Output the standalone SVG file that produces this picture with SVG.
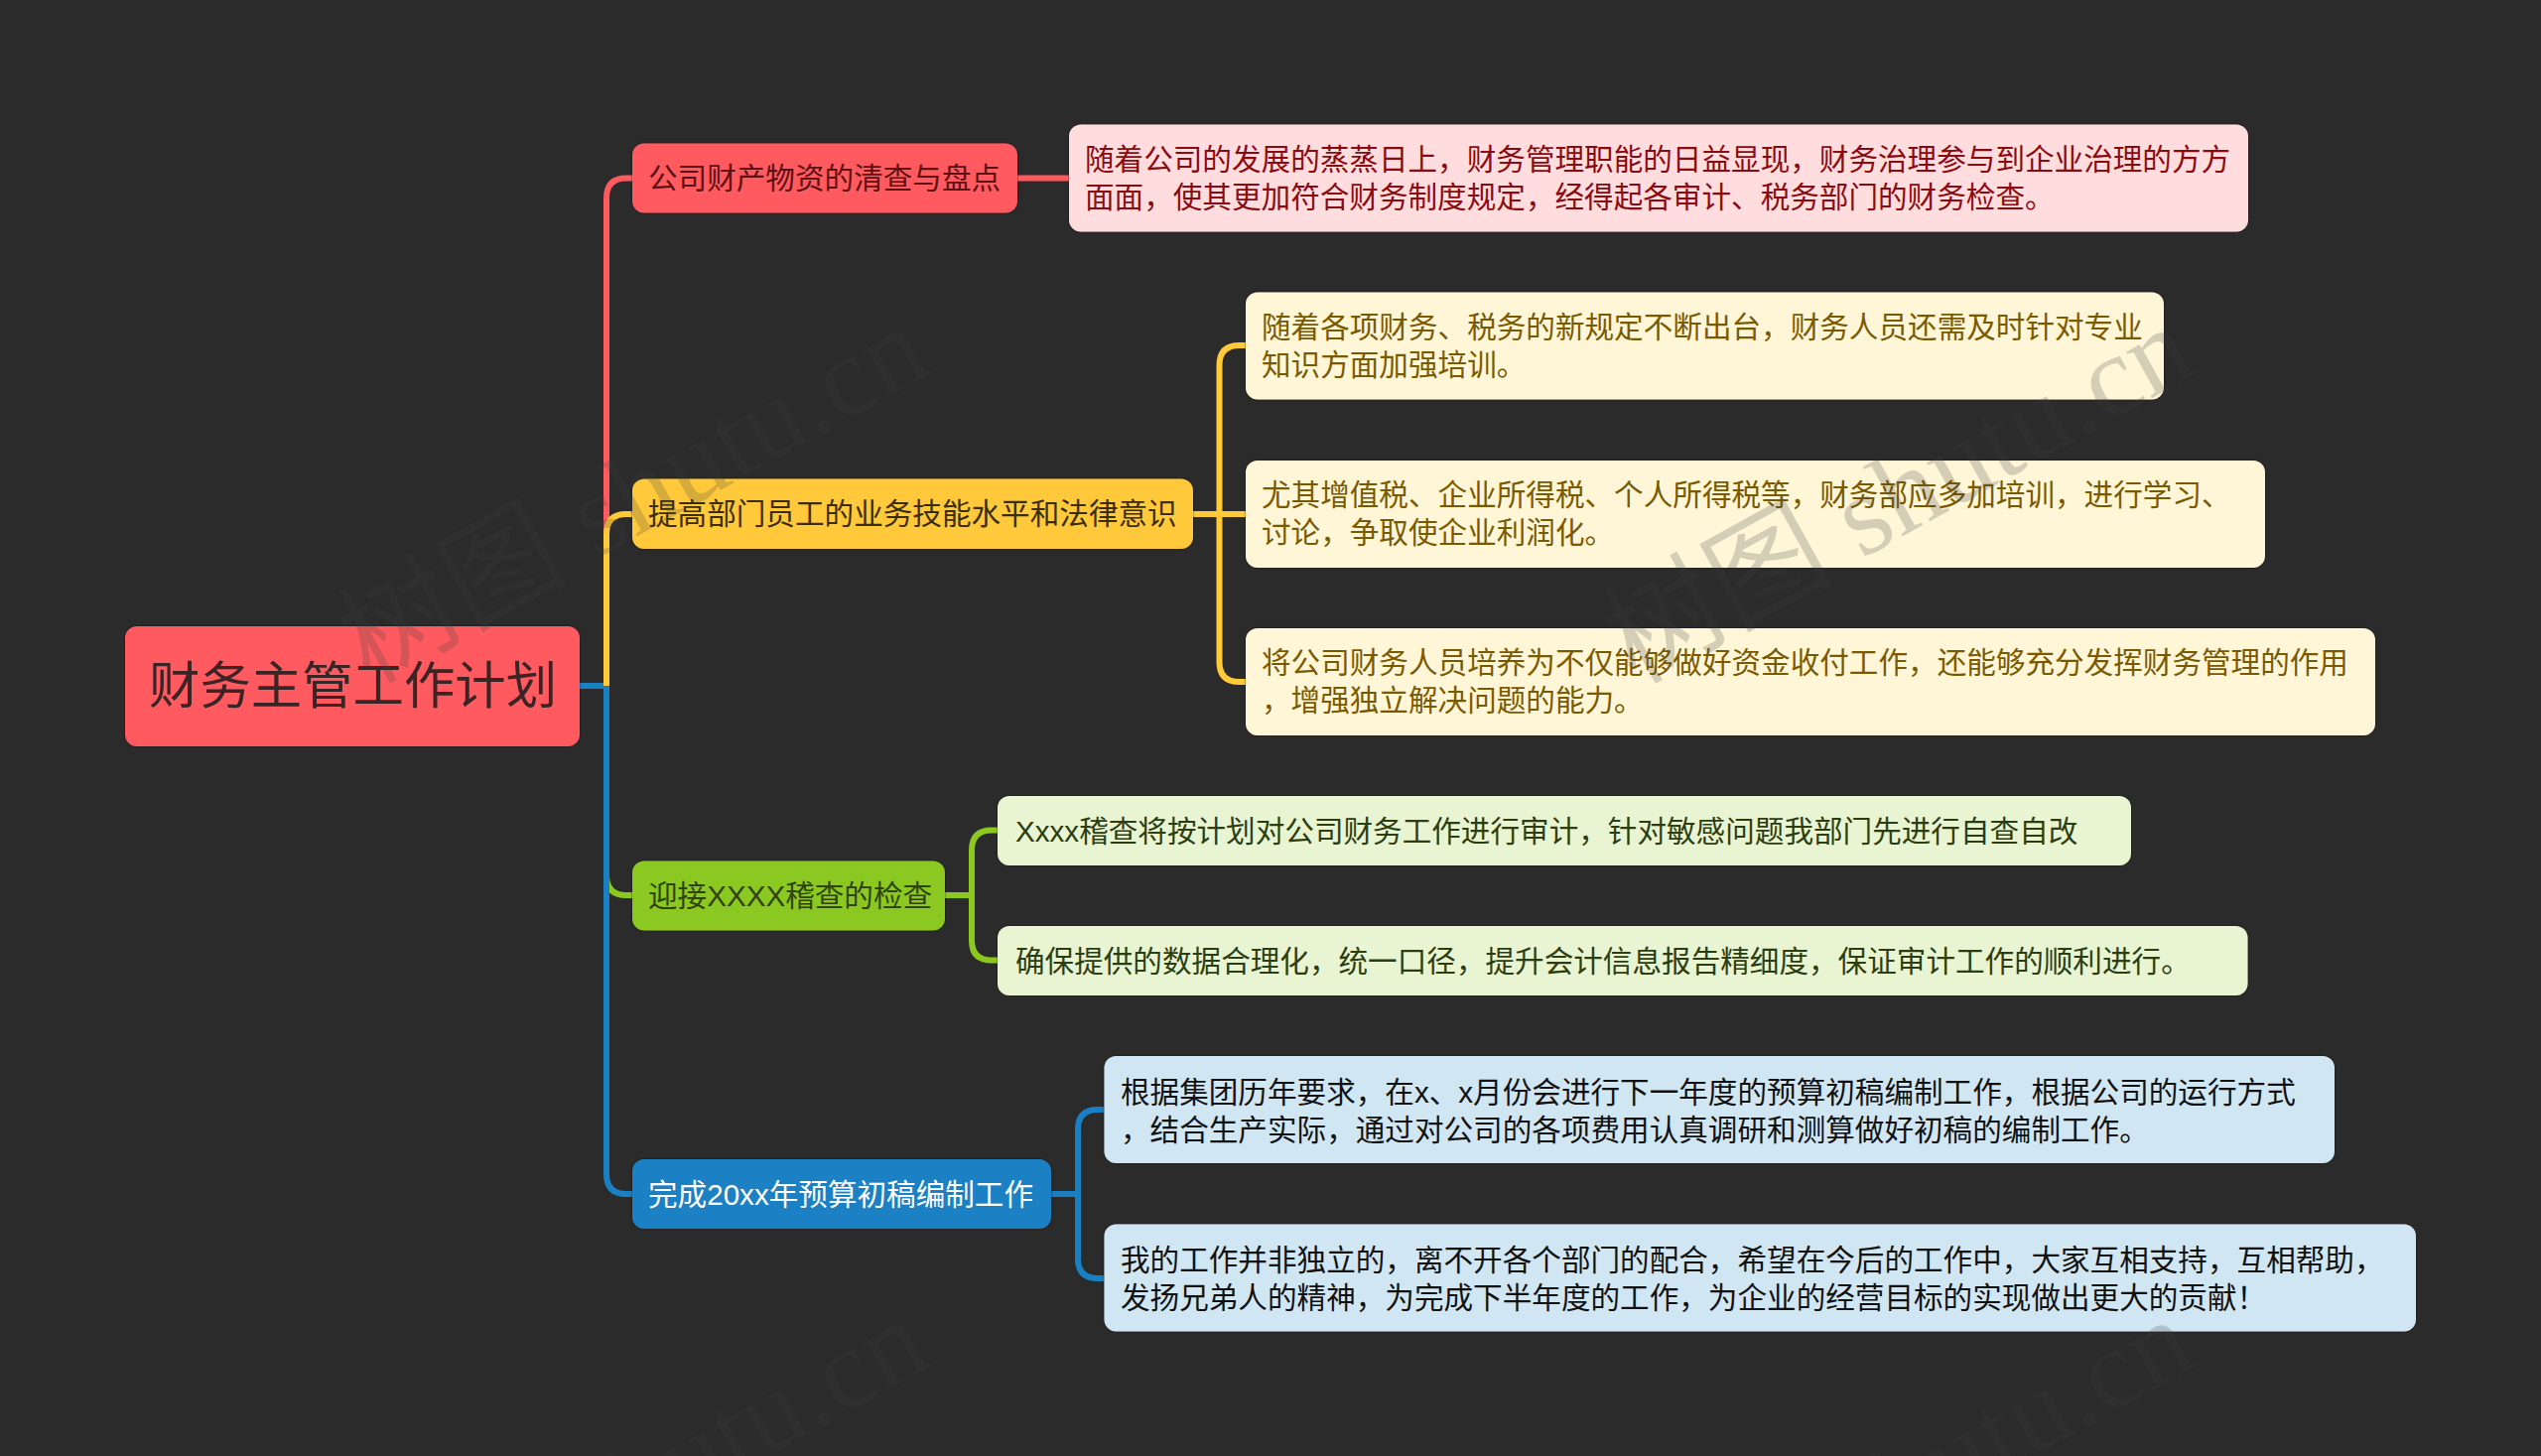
<svg xmlns="http://www.w3.org/2000/svg" width="2560" height="1467" viewBox="0 0 2560 1467">
<defs>
<filter id="sh" x="-5%" y="-10%" width="110%" height="120%"><feDropShadow dx="0" dy="0" stdDeviation="1.2" flood-color="#000" flood-opacity="0.6"/></filter>
</defs>
<style>
text{font-family:"Liberation Sans","Noto Sans CJK SC",sans-serif;font-size:29.6px;white-space:pre}
.box{filter:url(#sh)}
.c{fill:none;stroke-width:6}
.wm{font-family:"Liberation Serif","Noto Sans CJK SC",serif;font-size:116px;fill:#404040;fill-opacity:.22}
</style>
<rect width="2560" height="1467" fill="#2b2b2b"/>
<g id="connectors">
<path class="c" stroke="#8cc820" d="M952 902H979M1005 836.500H999Q979 836.500 979 856.500V947.500Q979 967.500 999 967.500H1005M637 902H631Q611 902 611 882V691"/>
<path class="c" stroke="#1a80c4" d="M584 691H611M611 691V1183Q611 1203 631 1203H637M1059 1203H1086M1112 1118H1106Q1086 1118 1086 1138V1268Q1086 1288 1106 1288H1112"/>
<path class="c" stroke="#ff5a5f" d="M1024 179.500H1077M637 179.500H631Q611 179.500 611 199.500V691"/>
<path class="c" stroke="#ffc93a" d="M637 518H631Q611 518 611 538V691M1202 518H1255M1255 348H1248.500Q1228.500 348 1228.500 368V667Q1228.500 687 1248.500 687H1255"/>
</g>
<g id="root"><rect class="box" x="126" y="631" width="458" height="121" rx="12" fill="#ff5a5f"/><text x="150" y="709" style="font-size:51.400px" fill="#3a2426">财务主管工作计划</text></g>
<g id="b1"><rect class="box" x="637" y="144.500" width="388" height="70" rx="12" fill="#ff5a5f"/><text x="653" y="190" fill="#5c1114">公司财产物资的清查与盘点</text></g>
<g id="d1"><rect class="box" x="1077" y="125.500" width="1188" height="108" rx="12" fill="#ffdddf"/><text x="1093" y="171" fill="#8b0a10">随着公司的发展的蒸蒸日上，财务管理职能的日益显现，财务治理参与到企业治理的方方</text><text x="1093" y="209" fill="#8b0a10">面面，使其更加符合财务制度规定，经得起各审计、税务部门的财务检查。</text></g>
<g id="b2"><rect class="box" x="637" y="482.500" width="565" height="70.500" rx="12" fill="#ffc93a"/><text x="653" y="528" fill="#3a2d08">提高部门员工的业务技能水平和法律意识</text></g>
<g id="d2a"><rect class="box" x="1255" y="294.500" width="925" height="108" rx="12" fill="#fff6d8"/><text x="1271" y="340" fill="#7a5a00">随着各项财务、税务的新规定不断出台，财务人员还需及时针对专业</text><text x="1271" y="378" fill="#7a5a00">知识方面加强培训。</text></g>
<g id="d2b"><rect class="box" x="1255" y="464" width="1027" height="108" rx="12" fill="#fff6d8"/><text x="1271" y="509" fill="#7a5a00">尤其增值税、企业所得税、个人所得税等，财务部应多加培训，进行学习、</text><text x="1271" y="547" fill="#7a5a00">讨论，争取使企业利润化。</text></g>
<g id="d2c"><rect class="box" x="1255" y="633" width="1138" height="108" rx="12" fill="#fff6d8"/><text x="1271" y="678" fill="#7a5a00">将公司财务人员培养为不仅能够做好资金收付工作，还能够充分发挥财务管理的作用</text><text x="1271" y="716" fill="#7a5a00">，增强独立解决问题的能力。</text></g>
<g id="b3"><rect class="box" x="637" y="867.500" width="315" height="70" rx="12" fill="#8cc820"/><text x="653" y="913" fill="#2e4408">迎接XXXX稽查的检查</text></g>
<g id="d3a"><rect class="box" x="1005" y="802" width="1142" height="70" rx="12" fill="#e8f4d2"/><text x="1023" y="848" fill="#2c3d10">Xxxx稽查将按计划对公司财务工作进行审计，针对敏感问题我部门先进行自查自改</text></g>
<g id="d3b"><rect class="box" x="1005" y="933" width="1259.500" height="70" rx="12" fill="#e8f4d2"/><text x="1023" y="979" fill="#2c3d10">确保提供的数据合理化，统一口径，提升会计信息报告精细度，保证审计工作的顺利进行。</text></g>
<g id="b4"><rect class="box" x="637" y="1168" width="422" height="70" rx="12" fill="#1a80c4"/><text x="653" y="1214" fill="#ffffff">完成20xx年预算初稿编制工作</text></g>
<g id="d4a"><rect class="box" x="1112.500" y="1064" width="1239.500" height="108" rx="12" fill="#d1e6f3"/><text x="1129" y="1111" fill="#111">根据集团历年要求，在x、x月份会进行下一年度的预算初稿编制工作，根据公司的运行方式</text><text x="1129" y="1149" fill="#111">，结合生产实际，通过对公司的各项费用认真调研和测算做好初稿的编制工作。</text></g>
<g id="d4b"><rect class="box" x="1112.500" y="1233.500" width="1321.500" height="108" rx="12" fill="#d1e6f3"/><text x="1129" y="1280" fill="#111">我的工作并非独立的，离不开各个部门的配合，希望在今后的工作中，大家互相支持，互相帮助，</text><text x="1129" y="1318" fill="#111">发扬兄弟人的精神，为完成下半年度的工作，为企业的经营目标的实现做出更大的贡献！</text></g>
<g id="watermarks">
<text class="wm" transform="translate(372 690) rotate(-29)">树图 shutu.cn</text>
<text class="wm" transform="translate(1647 690) rotate(-29)">树图 shutu.cn</text>
<text class="wm" transform="translate(372 1690) rotate(-29)">树图 shutu.cn</text>
<text class="wm" transform="translate(1647 1690) rotate(-29)">树图 shutu.cn</text>
</g>
</svg>
